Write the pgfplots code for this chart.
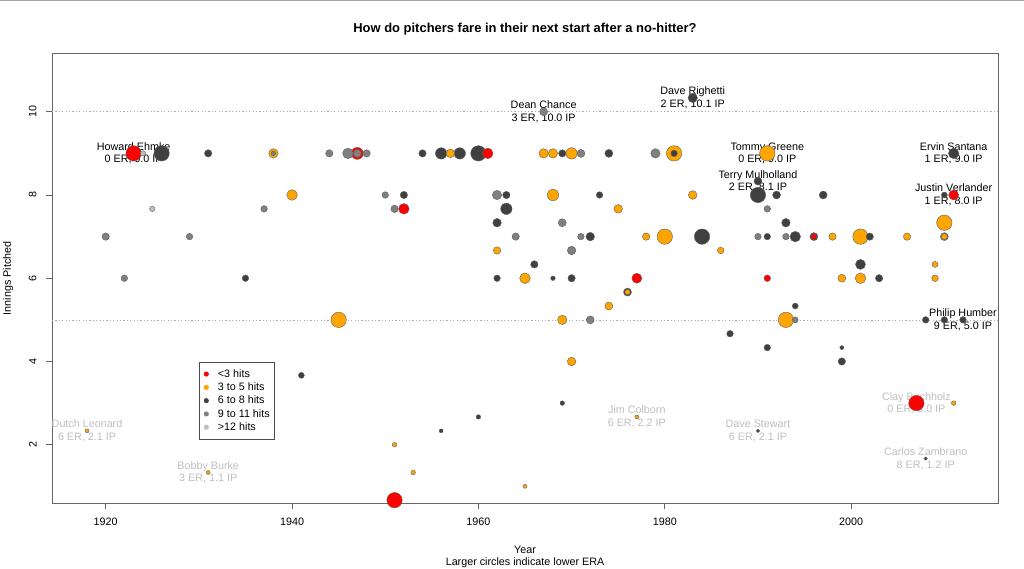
\documentclass[border=0pt]{standalone}
\usepackage{pgfplots}
\pgfplotsset{compat=1.18}
\usepackage{pgfplotstable}
\usepackage{fontspec}
\setmainfont{Liberation Sans}
\definecolor{cRed}{RGB}{255,0,0}
\definecolor{cOrange}{RGB}{255,165,0}
\definecolor{cDark}{RGB}{64,64,64}
\definecolor{cGray}{RGB}{128,128,128}
\definecolor{cLight}{RGB}{190,190,190}
\definecolor{cEdge}{RGB}{95,95,95}
\definecolor{cLab}{RGB}{190,190,190}
\newcommand{\lab}{\fontsize{10.8}{12.6}\selectfont}
% year, innings pitched, hit class, radius (bp)
\pgfplotstableread{
x y c r
1923 9 a 7.7
1926 9 c 7.7
1960 9 c 7.7
1945 5 b 7.7
1951 0.667 a 7.7
1980 7 b 7.7
1981 9 b 7.7
1991 9 b 7.7
1990 8 c 7.7
2010 7.333 b 7.7
1984 7 c 7.7
2001 7 b 7.7
1993 5 b 7.7
2007 3 a 7.7
1947 9 a 6.0
1956 9 c 5.7
1958 9 c 5.7
1970 9 b 5.7
1968 8 b 5.7
1963 7.667 c 5.7
1946 9 d 5.3
1940 8 b 5.3
1961 9 a 5.3
1952 7.667 a 5.3
1965 6 b 5.3
2011 9 c 5.3
1994 7 c 5.3
2001 6 b 5.3
1977 6 a 5.0
2011 8 a 5.0
2001 6.333 c 5.0
1938 9 b 4.7
1967 9 b 4.7
1968 9 b 4.7
1979 9 d 4.7
1962 8 d 4.7
1969 5 b 4.7
1983 10.333 c 4.7
1957 9 b 4.3
1975 7.667 b 4.3
1962 7.333 c 4.3
1972 7 c 4.3
1970 6.667 d 4.3
1970 4 b 4.3
1983 8 b 4.3
1993 7.333 c 4.3
1947 9 d 4.0
1971 9 d 4.0
1974 9 c 4.0
1967 10 d 4.0
1969 7.333 d 4.0
1976 5.667 c 4.0
1972 5 d 4.0
1974 5.333 b 4.0
1990 8.333 c 4.0
1992 8 c 4.0
1997 8 c 4.0
1996 7 c 4.0
2010 7 d 4.0
1999 6 b 4.0
1931 9 c 3.7
1944 9 d 3.7
1948 9 d 3.7
1920 7 d 3.7
1954 9 c 3.7
1969 9 c 3.7
1952 8 c 3.7
1951 7.667 d 3.7
1963 8 c 3.7
1964 7 d 3.7
1978 7 b 3.7
1962 6.667 b 3.7
1966 6.333 c 3.7
1970 6 c 3.7
1998 7 b 3.7
2002 7 c 3.7
2006 7 b 3.7
2003 6 c 3.7
1999 4 c 3.7
1937 7.667 d 3.3
1929 7 d 3.3
1922 6 d 3.3
1935 6 c 3.3
1950 8 d 3.3
1973 8 c 3.3
1971 7 d 3.3
1962 6 c 3.3
1981 9 c 3.3
1991 7.667 d 3.3
1990 7 d 3.3
1991 7 c 3.3
1993 7 d 3.3
1986 6.667 b 3.3
1991 6 a 3.3
2009 6 b 3.3
1987 4.667 c 3.3
1991 4.333 c 3.3
2008 5 c 3.3
2010 5 c 3.3
2012 5 c 3.3
1941 3.667 c 3.0
2010 8 c 3.0
1996 7 a 3.0
2010 7 b 3.0
2009 6.333 b 3.0
1994 5.333 c 3.0
1994 5 d 3.0
1924 9 e 2.7
1925 7.667 e 2.7
1976 5.667 b 2.7
1938 9 d 2.3
1968 6 c 2.3
1969 3 c 2.3
1960 2.667 c 2.3
1951 2 b 2.3
1953 1.333 b 2.3
2011 3 b 2.3
1918 2.333 b 2.0
1931 1.333 b 2.0
1956 2.333 c 2.0
1965 1 b 2.0
1977 2.667 b 2.0
1999 4.333 c 2.0
1990 2.333 c 1.7
2008 1.667 c 1.7
}\pts
\begin{document}
\begin{tikzpicture}[x=1bp,y=1bp]
\path[use as bounding box] (0,0) rectangle (1024,569);
\draw[gray!70, line width=1.5bp] (0,568.3) -- (1024,568.3);
\begin{axis}[
  at={(52bp,66bp)}, anchor=south west,
  scale only axis, width=946bp, height=449.5bp,
  xmin=1914.24, xmax=2015.76, ymin=0.6, ymax=11.4,
  axis line style={draw=black!60, line width=0.9bp},
  xtick={1920,1940,1960,1980,2000}, ytick={2,4,6,8,10},
  tick align=outside, major tick length=6bp,
  tick style={draw=black!60, line width=0.9bp},
  xtick pos=bottom, ytick pos=left,
  /pgf/number format/1000 sep={}, /pgf/number format/assume math mode=true,
  ticklabel style={font=\lab},
  xticklabel style={inner xsep=0bp, inner ysep=8.6bp},
  yticklabel style={rotate=90, anchor=south, inner xsep=0bp, inner ysep=9.3bp},
  clip=false,
  title={How do pitchers fare in their next start after a no-hitter?},
  title style={font=\bfseries\fontsize{13}{15}\selectfont, at={(axis description cs:0.5,1.041)}, anchor=center, yshift=0pt},
  xlabel={Year\\Larger circles indicate lower ERA},
  xlabel style={font=\fontsize{10.8}{12.3}\selectfont, align=center, at={(axis description cs:0.5,-0.1202)}, anchor=center},
  ylabel={Innings Pitched},
  ylabel style={font=\lab, at={(axis description cs:-0.0465,0.5)}, anchor=center, rotate=0},
  legend image code/.code={\path (-4.7bp,0bp); \draw[#1] plot coordinates {(0bp,0bp)};},
  legend cell align=left,
  legend style={at={(axis description cs:0.1554,0.1408)}, anchor=south west,
    draw=black!70, line width=0.6bp, fill=white,
    inner xsep=2bp, inner ysep=5.5bp, row sep=0bp, column sep=6.4bp,
    font=\lab,
    nodes={inner xsep=3bp, inner ysep=1.7bp, text height=8bp, text depth=1.9bp, anchor=west}},
]
\addplot[forget plot, draw=gray!65, line width=0.6bp, dash pattern=on 1.2bp off 2.2bp] coordinates {(1914.24,10) (2015.76,10)};
\addplot[forget plot, draw=gray!65, line width=0.6bp, dash pattern=on 1.2bp off 2.2bp] coordinates {(1914.24,5) (2015.76,5)};
\addplot[forget plot, scatter, only marks, mark=*,
  point meta=explicit symbolic,
  scatter/classes={
    a={mark=*, draw=cEdge, fill=cRed},
    b={mark=*, draw=cEdge, fill=cOrange},
    c={mark=*, draw=cEdge, fill=cDark},
    d={mark=*, draw=cEdge, fill=cGray},
    e={mark=*, draw=cEdge, fill=cLight}},
  visualization depends on={\thisrow{r} \as \rad},
  scatter/@pre marker code/.append style={/tikz/mark size=\rad bp, /tikz/line width=0.5bp},
] table[x=x, y=y, meta=c] {\pts};
\addlegendimage{mark=*, color=cRed, mark size=2.2bp}
\addlegendentry{<3 hits}
\addlegendimage{mark=*, color=cOrange, mark size=2.2bp}
\addlegendentry{3 to 5 hits}
\addlegendimage{mark=*, color=cDark, mark size=2.2bp}
\addlegendentry{6 to 8 hits}
\addlegendimage{mark=*, color=cGray, mark size=2.2bp}
\addlegendentry{9 to 11 hits}
\addlegendimage{mark=*, color=cLight, mark size=2.2bp}
\addlegendentry{>12 hits}
\node[align=center, font=\lab, inner sep=0pt] at (axis cs:1923,9) {Howard Ehmke\\0 ER, 9.0 IP};
\node[align=center, font=\lab, inner sep=0pt] at (axis cs:1967,10) {Dean Chance\\3 ER, 10.0 IP};
\node[align=center, font=\lab, inner sep=0pt] at (axis cs:1983,10.333) {Dave Righetti\\2 ER, 10.1 IP};
\node[align=center, font=\lab, inner sep=0pt] at (axis cs:1991,9) {Tommy Greene\\0 ER, 9.0 IP};
\node[align=center, font=\lab, inner sep=0pt] at (axis cs:1990,8.333) {Terry Mulholland\\2 ER, 8.1 IP};
\node[align=center, font=\lab, inner sep=0pt] at (axis cs:2011,9) {Ervin Santana\\1 ER, 9.0 IP};
\node[align=center, font=\lab, inner sep=0pt] at (axis cs:2011,8) {Justin Verlander\\1 ER, 8.0 IP};
\node[align=center, font=\lab, inner sep=0pt] at (axis cs:2012,5) {Philip Humber\\9 ER, 5.0 IP};
\node[align=center, font=\lab, inner sep=0pt, text=cLab] at (axis cs:1918,2.333) {Dutch Leonard\\6 ER, 2.1 IP};
\node[align=center, font=\lab, inner sep=0pt, text=cLab] at (axis cs:1931,1.333) {Bobby Burke\\3 ER, 1.1 IP};
\node[align=center, font=\lab, inner sep=0pt, text=cLab] at (axis cs:1977,2.667) {Jim Colborn\\6 ER, 2.2 IP};
\node[align=center, font=\lab, inner sep=0pt, text=cLab] at (axis cs:1990,2.333) {Dave Stewart\\6 ER, 2.1 IP};
\node[align=center, font=\lab, inner sep=0pt, text=cLab] at (axis cs:2007,3) {Clay Buchholz\\0 ER, 3.0 IP};
\node[align=center, font=\lab, inner sep=0pt, text=cLab] at (axis cs:2008,1.667) {Carlos Zambrano\\8 ER, 1.2 IP};
\end{axis}
\end{tikzpicture}
\end{document}
